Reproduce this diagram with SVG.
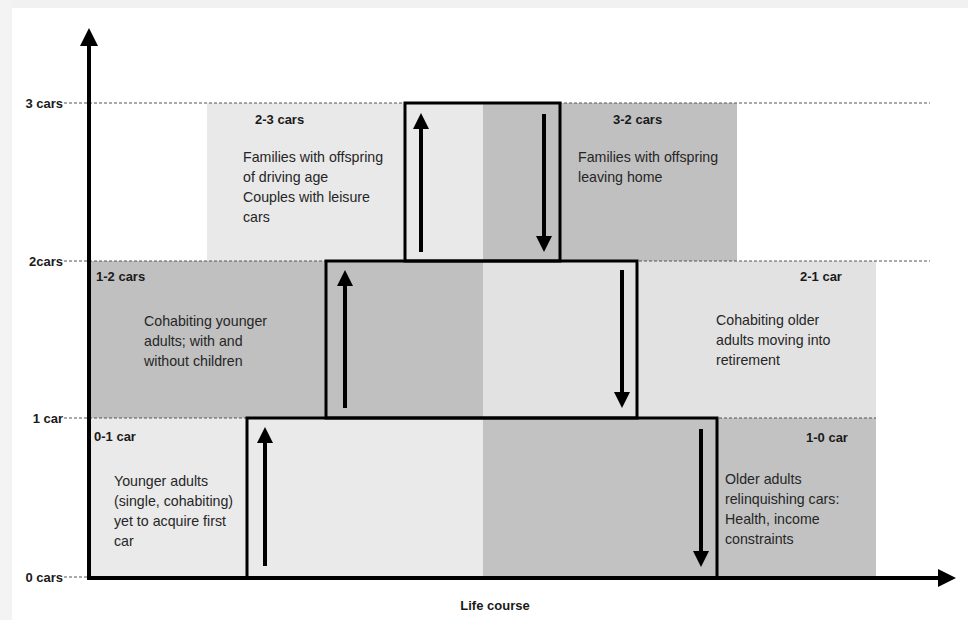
<svg xmlns="http://www.w3.org/2000/svg" width="968" height="620" viewBox="0 0 968 620">
<defs>
<style>
.t{font-family:"Liberation Sans",Arial,sans-serif;font-size:14.2px;fill:#262626}
.b{font-family:"Liberation Sans",Arial,sans-serif;font-size:13px;font-weight:bold;fill:#1a1a1a}
.yl{font-family:"Liberation Sans",Arial,sans-serif;font-size:13px;font-weight:bold;fill:#1a1a1a;text-anchor:end}
.dash{stroke:#555;stroke-width:1;stroke-dasharray:3,2;fill:none}
.box{fill:none;stroke:#000;stroke-width:3}
.shaft{stroke:#000;stroke-width:4}
.lt{fill:#e9e9e9}
.dk{fill:#c0c0c0}
</style>
</defs>
<rect width="968" height="620" fill="#fff"/>
<rect x="0" y="0" width="968" height="8" fill="#f1f1f1"/>
<rect x="0" y="0" width="12" height="620" fill="#f3f3f3"/>
<g id="bands">
<rect x="207" y="103" width="276" height="158" class="lt"/>
<rect x="483" y="103" width="254" height="158" class="dk"/>
<rect x="89" y="261" width="394" height="157" class="dk"/>
<rect x="483" y="261" width="393" height="157" fill="#e2e2e2"/>
<rect x="89" y="418" width="394" height="160" fill="#eaeaea"/>
<rect x="483" y="418" width="393" height="160" fill="#c2c2c2"/>
</g>
<g id="gridlines">
<line x1="64" y1="103" x2="930" y2="103" class="dash"/>
<line x1="64" y1="261" x2="930" y2="261" class="dash"/>
<line x1="64" y1="418" x2="876" y2="418" class="dash"/>
<line x1="64" y1="577" x2="89" y2="577" class="dash"/>
</g>
<g id="boxes">
<rect id="box-top" x="405" y="103" width="155" height="158" class="box"/>
<rect id="box-mid" x="326" y="261" width="311" height="157" class="box"/>
<rect id="box-bottom" x="247" y="418" width="470" height="160" class="box"/>
</g>
<g id="connectors">
<line x1="265" y1="566" x2="265" y2="440" class="shaft"/><polygon points="265,427 257,443 273,443"/>
<line x1="345" y1="408" x2="345" y2="283" class="shaft"/><polygon points="345,270 337,286 353,286"/>
<line x1="421" y1="252" x2="421" y2="126" class="shaft"/><polygon points="421,113 413,129 429,129"/>
<line x1="544" y1="114" x2="544" y2="239" class="shaft"/><polygon points="544,252 536,236 552,236"/>
<line x1="622" y1="270" x2="622" y2="395" class="shaft"/><polygon points="622,408 614,392 630,392"/>
<line x1="701" y1="429" x2="701" y2="554" class="shaft"/><polygon points="701,567 693,551 709,551"/>
</g>
<g id="axes">
<line x1="89" y1="580" x2="89" y2="44" stroke="#000" stroke-width="4"/>
<polygon points="89,28 80,46 98,46"/>
<line x1="87" y1="578" x2="940" y2="578" stroke="#000" stroke-width="4"/>
<polygon points="956,578 938,569 938,587"/>
</g>
<g id="axis-labels">
<text x="63" y="108" class="yl">3 cars</text>
<text x="63" y="266" class="yl">2cars</text>
<text x="63" y="423" class="yl">1 car</text>
<text x="63" y="582" class="yl">0 cars</text>
<text x="495" y="610" class="b" text-anchor="middle">Life course</text>
</g>
<g id="node-2-3">
<text x="255" y="124" class="b">2-3 cars</text>
<text class="t"><tspan x="243" y="162">Families with offspring</tspan><tspan x="243" y="182">of driving age</tspan><tspan x="243" y="202">Couples with leisure</tspan><tspan x="243" y="222">cars</tspan></text>
</g>
<g id="node-3-2">
<text x="613" y="124" class="b">3-2 cars</text>
<text class="t"><tspan x="578" y="162">Families with offspring</tspan><tspan x="578" y="182">leaving home</tspan></text>
</g>
<g id="node-1-2">
<text x="96" y="281" class="b">1-2 cars</text>
<text class="t"><tspan x="144" y="326">Cohabiting younger</tspan><tspan x="144" y="346">adults; with and</tspan><tspan x="144" y="366">without children</tspan></text>
</g>
<g id="node-2-1">
<text x="800" y="281" class="b">2-1 car</text>
<text class="t"><tspan x="716" y="325">Cohabiting older</tspan><tspan x="716" y="345">adults moving into</tspan><tspan x="716" y="365">retirement</tspan></text>
</g>
<g id="node-0-1">
<text x="94" y="441" class="b">0-1 car</text>
<text class="t"><tspan x="114" y="486">Younger adults</tspan><tspan x="114" y="506">(single, cohabiting)</tspan><tspan x="114" y="526">yet to acquire first</tspan><tspan x="114" y="546">car</tspan></text>
</g>
<g id="node-1-0">
<text x="806" y="442" class="b">1-0 car</text>
<text class="t"><tspan x="725" y="484">Older adults</tspan><tspan x="725" y="504">relinquishing cars:</tspan><tspan x="725" y="524">Health, income</tspan><tspan x="725" y="544">constraints</tspan></text>
</g>
</svg>
